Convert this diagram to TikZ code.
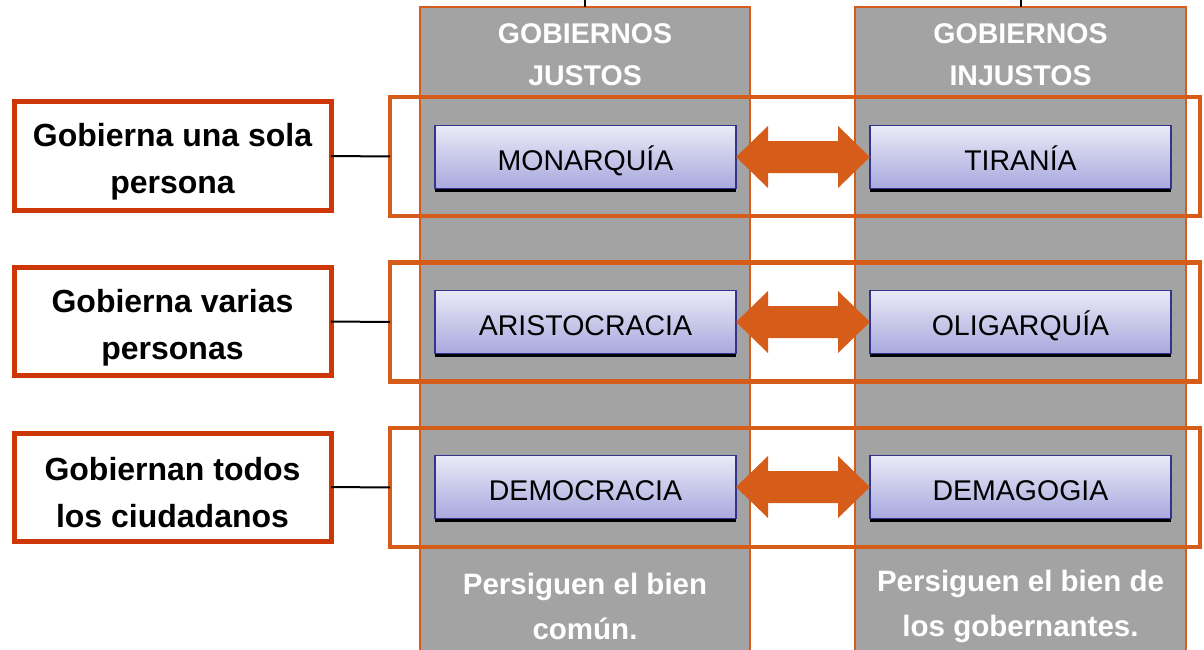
\documentclass[tikz,border=0pt]{standalone}
\usepackage{fontspec}
\setmainfont{Liberation Sans}
\usetikzlibrary{shadows,calc}
\definecolor{colgray}{RGB}{163,163,163}
\definecolor{orng}{RGB}{214,92,26}
\definecolor{labred}{RGB}{205,55,5}
\definecolor{boxtop}{RGB}{234,234,247}
\definecolor{boxbot}{RGB}{168,168,222}
\definecolor{boxborder}{RGB}{52,52,140}
\begin{document}
\begin{tikzpicture}[x=1pt,y=-1pt,
  column/.style={draw=orng, fill=colgray, line width=2pt, inner sep=0pt, outer sep=0pt, minimum height=648pt},
  rowframe/.style={draw=orng, line width=4.5pt, inner sep=0pt, outer sep=0pt, minimum width=810pt, minimum height=119pt},
  lab/.style={draw=labred, fill=white, line width=5pt, inner sep=0pt, outer sep=0pt, minimum width=317pt, minimum height=108pt},
  labtext/.style={align=center, font=\fontsize{32}{47}\selectfont\bfseries},
  kind/.style={draw=boxborder, line width=1.5pt, top color=boxtop, bottom color=boxbot, inner sep=0pt, outer sep=0pt, minimum width=301pt, minimum height=63pt, text height=26pt, text depth=0pt, font=\fontsize{28.5}{34}\selectfont, drop shadow={shadow xshift=0pt, shadow yshift=-3pt, fill=black, opacity=1}},
  head/.style={text=white, align=center, font=\fontsize{28.5}{42}\selectfont\bfseries},
  foot/.style={text=white, align=center, font=\fontsize{29.5}{45}\selectfont\bfseries},
  link/.style={draw=black, line width=2pt},
  dblarrow/.style={fill=orng, draw=none}
]
\useasboundingbox (0,0) rectangle (1204,650);
% columns
\node[column, minimum width=330pt] (colL) at (585,331) {};
\node[column, minimum width=331pt] (colR) at (1020.5,331) {};
\draw[link] (colL.north) -- ++(0,-8);
\draw[link] (colR.north) -- ++(0,-8);
\node[head] (hL) at (585,55) {GOBIERNOS\\JUSTOS};
\node[head] (hR) at (1020.5,55) {GOBIERNOS\\INJUSTOS};
\node[foot] (bL) at (585,606) {Persiguen el bien\\común.};
\node[foot] (bR) at (1020.5,606) {Persiguen el bien de\\los gobernantes.};
% row frames
\node[rowframe] (f1) at (795,156.5) {};
\node[rowframe] (f2) at (795,322) {};
\node[rowframe] (f3) at (795,487.5) {};
% label boxes
\node[lab] (l1) at (172.5,156) {};
\node[lab] (l2) at (172.5,321.5) {};
\node[lab] (l3) at (172.5,487) {};
\node[labtext] (l1t) at ($(l1.center)+(0,6)$) {Gobierna una sola\\persona};
\node[labtext] (l2t) at ($(l2.center)+(0,6)$) {Gobierna varias\\personas};
\node[labtext] (l3t) at ($(l3.center)+(0,6)$) {Gobiernan todos\\los ciudadanos};
\draw[link] (l1.east) -- (f1.west);
\draw[link] (l2.east) -- (f2.west);
\draw[link] (l3.east) -- (f3.west);
% government boxes
\node[kind] (m1) at (585.5,157) {MONARQUÍA};
\node[kind] (t1) at (1020.5,157) {TIRANÍA};
\node[kind] (m2) at (585.5,322) {ARISTOCRACIA};
\node[kind] (t2) at (1020.5,322) {OLIGARQUÍA};
\node[kind] (m3) at (585.5,487) {DEMOCRACIA};
\node[kind] (t3) at (1020.5,487) {DEMAGOGIA};
% double arrows
\foreach \a/\b in {m1/t1,m2/t2,m3/t3}{
  \fill[dblarrow] (\a.east) -- ++(32,-31) -- ++(0,15) -- ++(70,0) -- ++(0,-15) -- (\b.west)
    -- ++(-32,31) -- ++(0,-15) -- ++(-70,0) -- ++(0,15) -- cycle;
}
\end{tikzpicture}
\end{document}
